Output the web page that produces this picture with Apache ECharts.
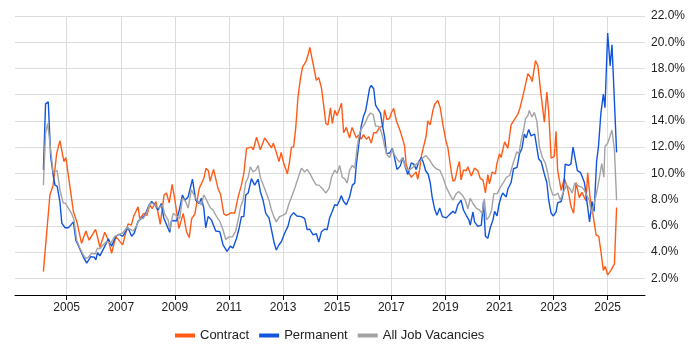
<!DOCTYPE html>
<html>
<head>
<meta charset="UTF-8">
<title>Job vacancy trend</title>
<script src="https://cdn.jsdelivr.net/npm/echarts@6/dist/echarts.min.js"></script>
<style>
  html, body { margin: 0; padding: 0; background: #fff; }
  #main { width: 700px; height: 350px; }
</style>
</head>
<body>
<div id="main"></div>
<script type="text/javascript">
// ticks
var yearTicks = [2005, 2007, 2009, 2011, 2013, 2015, 2017, 2019, 2021, 2023, 2025];
var pctTicks = [2, 4, 6, 8, 10, 12, 14, 16, 18, 20, 22];

// Contract (date as decimal year, value in %)
var contractX = [2004.14,2004.38,2004.50,2004.63,2004.75,2004.81,2004.90,2004.97,2005.12,2005.25,2005.39,2005.55,2005.71,2005.83,2006.07,2006.13,2006.23,2006.41,2006.54,2006.66,2006.82,2007.07,2007.27,2007.39,2007.48,2007.64,2007.70,2007.85,2007.97,2008.07,2008.16,2008.30,2008.46,2008.60,2008.69,2008.79,2008.90,2009.00,2009.15,2009.31,2009.43,2009.53,2009.62,2009.74,2009.90,2010.07,2010.15,2010.24,2010.30,2010.43,2010.60,2010.69,2010.81,2010.90,2010.97,2011.10,2011.21,2011.34,2011.46,2011.55,2011.65,2011.83,2011.90,2012.02,2012.08,2012.16,2012.32,2012.44,2012.57,2012.64,2012.75,2012.85,2012.93,2013.02,2013.16,2013.24,2013.31,2013.39,2013.47,2013.55,2013.64,2013.72,2013.84,2013.92,2013.99,2014.08,2014.23,2014.32,2014.42,2014.50,2014.58,2014.66,2014.75,2014.82,2014.91,2015.00,2015.16,2015.24,2015.34,2015.46,2015.55,2015.62,2015.71,2015.80,2015.89,2015.97,2016.08,2016.17,2016.26,2016.35,2016.45,2016.57,2016.69,2016.75,2016.84,2016.94,2017.00,2017.09,2017.19,2017.31,2017.41,2017.49,2017.55,2017.65,2017.74,2017.83,2017.92,2017.98,2018.05,2018.11,2018.19,2018.29,2018.35,2018.44,2018.54,2018.60,2018.72,2018.81,2018.91,2019.03,2019.09,2019.22,2019.28,2019.36,2019.46,2019.52,2019.58,2019.67,2019.77,2019.83,2019.96,2020.08,2020.20,2020.29,2020.39,2020.48,2020.57,2020.63,2020.73,2020.85,2020.90,2021.00,2021.06,2021.19,2021.31,2021.43,2021.55,2021.68,2021.76,2021.86,2021.96,2022.05,2022.14,2022.21,2022.33,2022.42,2022.54,2022.66,2022.75,2022.82,2022.91,2023.03,2023.09,2023.15,2023.28,2023.40,2023.52,2023.65,2023.74,2023.83,2023.95,2024.05,2024.14,2024.20,2024.26,2024.35,2024.44,2024.57,2024.67,2024.75,2024.84,2024.91,2025.00,2025.12,2025.25,2025.33];
var contractY = [2.5,8.35,9.1,11.5,12.5,12.4,10.9,11.2,9.0,7.07,6.2,4.66,5.6,4.9,5.73,5.6,4.36,5.5,4.9,3.9,5.17,4.54,6.14,6.05,6.75,7.45,6.55,6.95,6.8,7.6,7.3,7.85,6.1,8.35,8.5,7.75,9.16,8.0,5.8,6.95,5.55,5.1,6.55,6.9,8.85,9.6,10.38,10.2,9.4,10.3,8.8,8.4,6.9,6.8,6.75,7.0,6.95,8.2,9.1,10.0,11.9,12.0,11.8,12.75,12.85,11.8,12.7,12.35,11.95,12.3,11.6,10.9,11.6,10.8,9.95,10.9,12.0,12.0,13.5,15.8,17.2,18.1,18.5,19.0,19.6,18.65,17.1,17.3,16.5,15.2,13.8,13.7,15.0,13.8,14.8,14.4,15.35,13.1,13.5,12.7,13.5,13.4,12.7,12.95,12.6,12.95,12.6,12.8,12.3,13.1,13.1,13.5,13.6,14.85,14.1,14.2,14.6,14.95,14.0,13.35,12.7,12.1,10.7,10.05,9.7,9.9,10.1,9.55,10.3,11.3,12.0,12.85,14.0,13.7,14.8,15.25,15.55,15.0,13.7,12.4,12.0,10.1,9.4,9.5,10.5,10.9,9.5,10.25,10.2,10.5,9.8,10.4,10.2,9.6,9.5,8.5,9.9,9.2,10.1,9.95,10.7,11.5,11.2,12.4,11.9,13.7,14.1,14.5,15.0,15.85,16.75,17.6,17.35,17.0,18.6,18.2,15.95,13.9,16.2,14.7,11.15,11.3,13.2,10.25,8.7,9.6,8.85,7.45,6.95,9.3,8.15,8.55,8.15,7.9,10.05,8.15,7.1,5.3,5.2,4.05,2.6,2.9,2.25,2.6,3.1,7.4];

// Permanent
var permX = [2004.14,2004.22,2004.32,2004.41,2004.51,2004.57,2004.65,2004.75,2004.82,2004.94,2005.06,2005.15,2005.25,2005.34,2005.47,2005.61,2005.74,2005.80,2005.89,2006.02,2006.08,2006.14,2006.23,2006.41,2006.54,2006.66,2006.82,2006.94,2007.07,2007.19,2007.27,2007.40,2007.50,2007.64,2007.76,2007.89,2008.05,2008.14,2008.26,2008.38,2008.50,2008.59,2008.69,2008.81,2008.87,2008.97,2009.06,2009.18,2009.28,2009.37,2009.49,2009.55,2009.65,2009.77,2009.90,2009.98,2010.07,2010.14,2010.23,2010.35,2010.41,2010.51,2010.66,2010.78,2010.93,2011.05,2011.15,2011.28,2011.38,2011.46,2011.55,2011.62,2011.71,2011.83,2011.95,2012.08,2012.16,2012.26,2012.36,2012.48,2012.57,2012.67,2012.75,2012.85,2012.94,2013.06,2013.18,2013.27,2013.39,2013.51,2013.68,2013.80,2013.89,2013.98,2014.11,2014.23,2014.32,2014.42,2014.54,2014.63,2014.72,2014.82,2014.91,2015.00,2015.09,2015.15,2015.24,2015.34,2015.40,2015.46,2015.56,2015.65,2015.71,2015.80,2015.89,2015.98,2016.05,2016.14,2016.20,2016.26,2016.35,2016.42,2016.51,2016.60,2016.67,2016.76,2016.82,2016.94,2017.04,2017.12,2017.21,2017.33,2017.43,2017.53,2017.61,2017.74,2017.83,2017.92,2018.02,2018.11,2018.19,2018.27,2018.36,2018.44,2018.51,2018.60,2018.69,2018.79,2018.89,2019.03,2019.15,2019.28,2019.37,2019.46,2019.58,2019.67,2019.77,2019.87,2019.92,2020.02,2020.08,2020.20,2020.33,2020.41,2020.48,2020.57,2020.66,2020.76,2020.82,2020.91,2020.98,2021.06,2021.12,2021.25,2021.31,2021.43,2021.52,2021.65,2021.74,2021.83,2021.92,2021.99,2022.08,2022.17,2022.30,2022.36,2022.45,2022.54,2022.66,2022.75,2022.82,2022.91,2022.99,2023.09,2023.15,2023.28,2023.36,2023.43,2023.55,2023.64,2023.72,2023.79,2023.88,2024.00,2024.14,2024.20,2024.33,2024.42,2024.50,2024.59,2024.66,2024.75,2024.84,2024.90,2025.00,2025.09,2025.16,2025.33];
var permY = [10.25,15.3,15.45,11.25,9.75,9.1,9.0,7.85,6.2,5.85,5.85,6.05,6.3,4.9,4.3,3.65,3.15,3.15,3.65,3.6,3.4,3.95,3.7,4.45,5.0,4.45,5.2,5.35,5.2,5.6,5.85,5.2,5.45,6.35,6.55,6.8,7.6,7.85,7.6,7.2,7.7,6.6,6.1,5.5,6.35,6.4,6.35,7.35,8.35,7.95,8.2,8.1,9.55,7.95,7.7,8.1,7.35,5.85,6.7,6.45,6.35,5.6,5.55,4.55,4.05,4.45,4.3,5.05,5.85,6.7,6.7,8.35,8.5,9.6,9.1,9.55,8.6,7.95,6.95,6.6,5.7,4.7,4.15,4.55,4.8,5.45,5.95,6.7,7.0,6.75,6.7,6.55,5.7,5.75,5.3,5.4,4.75,5.55,5.75,5.7,6.6,7.1,7.6,7.55,7.95,8.3,7.85,7.6,7.45,8.2,9.1,9.25,10.7,12.2,13.6,14.4,14.75,15.8,16.5,16.7,16.45,15.2,14.9,14.6,13.7,12.7,11.5,11.55,11.9,11.2,10.3,10.55,11.2,10.4,9.9,10.8,10.7,10.3,10.9,11.2,10.8,10.2,9.95,9.3,8.2,7.3,6.8,7.35,6.7,6.6,6.85,7.1,6.95,7.6,7.95,7.2,6.8,6.45,6.05,7.05,6.3,5.95,6.05,7.85,5.2,5.05,5.85,6.45,7.1,6.75,7.6,8.2,8.5,8.2,8.8,9.3,10.35,10.45,11.5,11.9,13.0,12.7,13.35,12.85,13.0,12.85,11.1,10.9,9.95,9.3,7.95,6.95,6.75,7.05,7.75,7.85,8.5,10.7,10.6,10.7,12.0,12.0,10.2,10.05,9.3,8.4,6.3,7.85,7.1,10.9,12.05,14.6,16.05,15.0,20.7,18.2,19.8,11.6];

// All Job Vacancies
var allX = [2004.14,2004.22,2004.30,2004.41,2004.50,2004.57,2004.65,2004.75,2004.87,2004.97,2005.06,2005.18,2005.27,2005.37,2005.49,2005.61,2005.71,2005.80,2005.92,2006.05,2006.14,2006.23,2006.35,2006.48,2006.63,2006.78,2006.94,2007.07,2007.22,2007.34,2007.46,2007.58,2007.71,2007.83,2007.95,2008.08,2008.18,2008.32,2008.42,2008.54,2008.63,2008.75,2008.81,2008.94,2009.06,2009.18,2009.28,2009.40,2009.49,2009.61,2009.74,2009.86,2009.98,2010.07,2010.14,2010.23,2010.32,2010.41,2010.54,2010.66,2010.78,2010.88,2011.00,2011.13,2011.25,2011.34,2011.43,2011.52,2011.62,2011.71,2011.79,2011.89,2011.99,2012.08,2012.16,2012.29,2012.39,2012.48,2012.57,2012.66,2012.75,2012.87,2012.99,2013.11,2013.22,2013.34,2013.43,2013.55,2013.68,2013.80,2013.89,2013.99,2014.11,2014.23,2014.33,2014.45,2014.58,2014.70,2014.79,2014.91,2015.00,2015.09,2015.19,2015.28,2015.37,2015.46,2015.56,2015.65,2015.74,2015.83,2015.93,2016.02,2016.14,2016.23,2016.33,2016.42,2016.51,2016.60,2016.69,2016.76,2016.85,2016.94,2017.04,2017.12,2017.21,2017.31,2017.41,2017.53,2017.61,2017.70,2017.80,2017.92,2018.04,2018.17,2018.29,2018.42,2018.54,2018.66,2018.79,2018.91,2019.03,2019.15,2019.28,2019.40,2019.50,2019.62,2019.74,2019.83,2019.92,2020.02,2020.14,2020.26,2020.36,2020.44,2020.52,2020.62,2020.71,2020.79,2020.92,2021.01,2021.16,2021.26,2021.38,2021.48,2021.64,2021.72,2021.80,2021.90,2021.96,2022.05,2022.10,2022.20,2022.29,2022.38,2022.48,2022.58,2022.70,2022.79,2022.87,2022.97,2023.07,2023.16,2023.25,2023.35,2023.48,2023.60,2023.69,2023.78,2023.85,2023.95,2024.05,2024.14,2024.22,2024.32,2024.41,2024.50,2024.59,2024.69,2024.78,2024.86,2024.90,2025.00,2025.16,2025.25,2025.33];
var allY = [9.1,13.05,13.8,11.75,10.1,10.0,10.2,8.75,7.75,7.7,7.35,6.95,6.45,4.9,4.3,3.8,3.5,3.6,3.9,3.85,4.3,4.25,4.55,4.8,4.7,5.2,5.35,5.45,5.85,5.75,5.6,6.0,6.55,6.55,6.95,7.7,7.7,7.45,7.35,7.6,6.85,6.45,5.7,6.95,6.75,6.55,8.1,7.85,7.35,8.75,8.2,7.85,7.6,8.35,8.1,7.7,7.35,7.2,6.7,6.35,5.7,4.95,5.15,5.15,5.6,6.45,7.45,7.95,9.3,9.7,10.5,10.1,10.25,10.6,9.7,9.0,8.45,7.95,7.2,6.7,6.3,6.7,6.8,6.95,7.7,8.35,8.85,9.6,10.4,10.1,10.3,10.0,9.5,9.1,9.1,8.85,8.5,8.85,9.7,10.25,10.0,10.6,9.7,9.6,9.25,10.25,10.6,10.4,12.0,13.1,13.5,13.75,14.35,14.6,14.5,13.6,13.6,13.35,12.7,12.0,11.4,11.2,11.85,11.4,11.1,10.85,11.2,10.45,10.2,10.3,10.45,10.7,10.85,11.2,11.35,11.0,10.6,10.35,10.25,9.7,8.95,8.45,7.95,8.45,8.6,8.35,7.95,7.3,8.1,7.7,7.35,7.2,6.95,8.05,6.45,6.7,7.2,8.45,8.45,8.85,9.35,9.7,9.85,10.6,11.65,11.5,12.5,13.4,14.15,14.4,14.8,14.3,14.65,14.0,12.0,11.25,10.75,9.95,9.0,8.35,8.35,8.5,7.95,8.5,9.1,8.85,8.5,9.25,9.3,9.0,8.95,8.7,8.35,7.95,6.95,7.7,8.5,9.6,10.75,9.7,12.05,12.3,13.3,11.8,7.95];

function pairs(xs, ys) {
    var out = [];
    for (var i = 0; i < xs.length; i++) out.push([xs[i], ys[i]]);
    return out;
}

var font = 'Liberation Sans, Arial, sans-serif';
var myChart = echarts.init(document.getElementById('main'));

var option = {
    animation: false,
    textStyle: { fontFamily: font },
    grid: { left: 15, right: 55, top: 16, bottom: 55 },
    legend: {
        data: ['Contract', 'Permanent', 'All Job Vacancies'],
        left: 170,
        bottom: 3,
        icon: 'rect',
        itemWidth: 20,
        itemHeight: 4,
        itemGap: 10,
        textStyle: { fontFamily: font, fontSize: 13, color: '#222' }
    },
    xAxis: {
        type: 'value',
        min: 2003.09,
        max: 2026.38,
        axisLine: { show: true, lineStyle: { color: '#000', width: 1 } },
        axisTick: { show: true, length: 5, lineStyle: { color: '#000' }, customValues: yearTicks },
        axisLabel: { customValues: yearTicks, color: '#222', fontSize: 12, margin: 7, fontFamily: font,
            formatter: function (v) { return String(v); } },
        splitLine: { show: true, lineStyle: { color: '#dcdcdc' } }
    },
    yAxis: {
        type: 'value',
        position: 'right',
        min: 0.72,
        max: 22,
        axisLine: { show: false },
        axisTick: { show: false, customValues: pctTicks },
        axisLabel: { customValues: pctTicks, color: '#222', fontSize: 12, margin: 6, fontFamily: font,
            formatter: function (v) { return v.toFixed(1) + '%'; } },
        splitLine: { show: true, lineStyle: { color: '#dcdcdc' } }
    },
    series: [
        { name: 'Contract', type: 'line', data: pairs(contractX, contractY), showSymbol: false,
          lineStyle: { color: '#ff5b16', width: 1.4 }, itemStyle: { color: '#ff5b16' } },
        { name: 'Permanent', type: 'line', data: pairs(permX, permY), showSymbol: false,
          lineStyle: { color: '#1155dd', width: 1.4 }, itemStyle: { color: '#1155dd' } },
        { name: 'All Job Vacancies', type: 'line', data: pairs(allX, allY), showSymbol: false,
          lineStyle: { color: '#a3a3a3', width: 1.4 }, itemStyle: { color: '#a3a3a3' } }
    ]
};
myChart.setOption(option);
</script>
</body>
</html>
